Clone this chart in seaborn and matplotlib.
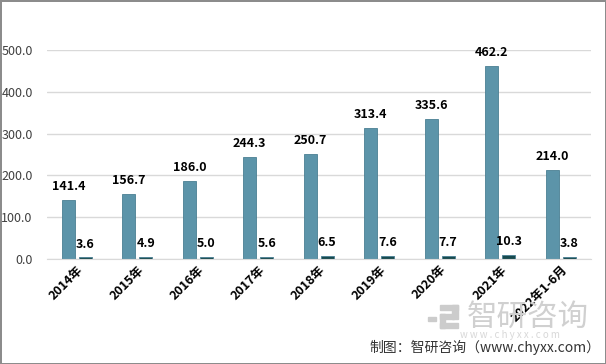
import pandas as pd
import seaborn as sns
import matplotlib.pyplot as plt
from matplotlib.patches import Rectangle

years = ['2014年', '2015年', '2016年', '2017年', '2018年', '2019年', '2020年', '2021年', '2022年1-6月']
big_vals = [141.4, 156.7, 186.0, 244.3, 250.7, 313.4, 335.6, 462.2, 214.0]
small_vals = [3.6, 4.9, 5.0, 5.6, 6.5, 7.6, 7.7, 10.3, 3.8]
series = ['A', 'B']

df = pd.DataFrame({
    'year': years * 2,
    'value': big_vals + small_vals,
    'series': [series[0]] * len(years) + [series[1]] * len(years),
})

sns.set_style('white')
plt.rcParams['font.family'] = ['Noto Sans CJK SC', 'DejaVu Sans']

fig = plt.figure(figsize=(6.06, 3.64), dpi=100, linewidth=2, edgecolor='#8c8c8c')
ax = fig.add_axes([0.077, 0.2885, 0.898, 0.574])

# watermark (behind the chart)
W, H = 606, 364
fig.text(528 / W, 1 - 317 / H, '智研咨询', fontsize=22, color='#d0d0d0', ha='center', va='center', zorder=0)
fig.text(510 / W, 1 - 335 / H, 'w w w . c h y x x . c o m', fontsize=7, color='#d8d8d8',
         ha='center', va='center', zorder=0)
for (x0, y0, w, h) in [(440, 305, 18, 5), (452, 305, 6, 14), (440, 314, 14, 5), (440, 314, 5, 14),
                       (440, 323, 18, 5), (428, 317, 8, 4)]:
    fig.add_artist(Rectangle((x0 / W, 1 - (y0 + h) / H), w / W, h / H,
                             transform=fig.transFigure, color='#cccccc', zorder=0))

sns.barplot(data=df, x='year', y='value', hue='series', order=years,
            palette=['#5c94a9', '#174a4e'], saturation=1, width=0.56, gap=0.24,
            edgecolor='#4a7f93', linewidth=0.6, legend=False, ax=ax)

for cont in ax.containers:
    ax.bar_label(cont, fmt='%.1f', padding=5, fontsize=9, fontweight='bold', color='black')

ax.set_ylim(0, 500)
ax.set_xlim(-0.5, len(years) - 0.5)
ax.set_yticks([0, 100, 200, 300, 400, 500])
ax.set_yticklabels([f'{v:.1f}' for v in [0, 100, 200, 300, 400, 500]], fontsize=9, color='#404040')
ax.yaxis.grid(True, color='#d9d9d9', linewidth=1)
ax.set_axisbelow(True)
ax.patch.set_alpha(0)
for s in ['top', 'right', 'left']:
    ax.spines[s].set_visible(False)
ax.spines['bottom'].set_color('#d9d9d9')
ax.tick_params(axis='y', length=0, pad=10)
ax.tick_params(axis='x', length=0, pad=3)
plt.setp(ax.get_xticklabels(), rotation=45, ha='right', rotation_mode='anchor',
         fontsize=9, fontweight='bold', color='black')
ax.set_xlabel('')
ax.set_ylabel('')

fig.text(0.99, 1 - 347 / H, '制图：智研咨询（www.chyxx.com）', fontsize=10, color='#333333',
         ha='right', va='center')

fig.savefig('out.png', dpi=100)
